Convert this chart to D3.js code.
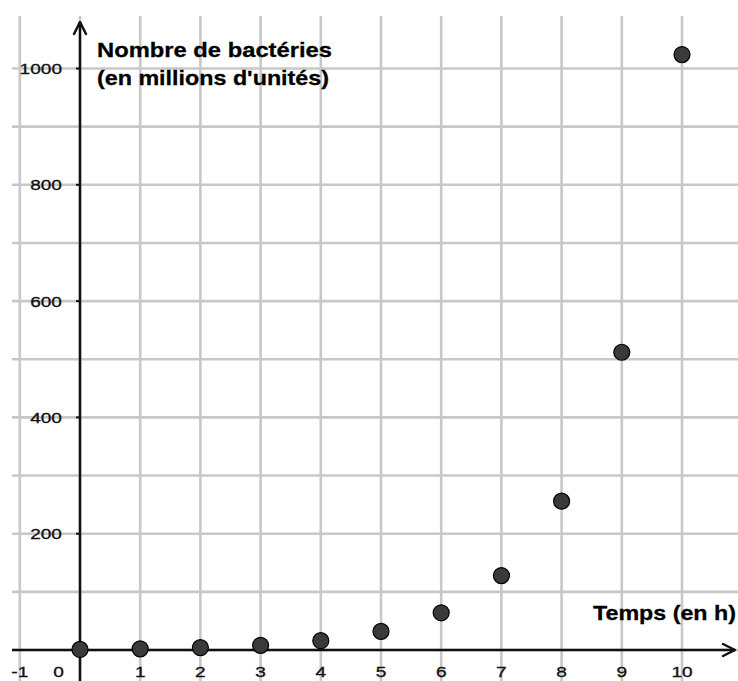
<!DOCTYPE html>
<html><head><meta charset="utf-8">
<script src="https://cdn.jsdelivr.net/npm/d3@7"></script>
<style>html,body{margin:0;padding:0;background:#fff;}svg{display:block;}</style>
</head><body>
<svg id="c" width="738" height="681"></svg>
<script>
const hours = [0,1,2,3,4,5,6,7,8,9,10];
const bacteria = [1,2,4,8,16,32,64,128,256,512,1024];
const xTickLabels = [-1,0,1,2,3,4,5,6,7,8,9,10];
const yTickLabels = [200,400,600,800,1000];
const xGrid = [-1,0,1,2,3,4,5,6,7,8,9,10,11];
const yGrid = [-100,0,100,200,300,400,500,600,700,800,900,1000];
const yTitle = ["Nombre de bactéries", "(en millions d'unités)"];
const xTitle = "Temps (en h)";

const svg = d3.select("#c");
const W = 738, H = 681;
const x = d3.scaleLinear().domain([0,10]).range([80,682]);
const y = d3.scaleLinear().domain([0,1000]).range([650,68.5]);
const gridTop = 16, gridLeft = 12;
const font = "'Liberation Sans', Arial, sans-serif";

// grid
const g = svg.append("g");
g.selectAll("line.v").data(xGrid).join("line")
  .attr("x1", d=>x(d)).attr("x2", d=>x(d)).attr("y1", gridTop).attr("y2", H)
  .attr("stroke", "#c8c8c8").attr("stroke-width", 2.6);
g.selectAll("line.h").data(yGrid).join("line")
  .attr("y1", d=>y(d)).attr("y2", d=>y(d)).attr("x1", gridLeft).attr("x2", W)
  .attr("stroke", "#c8c8c8").attr("stroke-width", 2.6);

// axes
const ax = svg.append("g").attr("stroke", "#111").attr("stroke-width", 2.5).attr("fill", "none")
  .attr("stroke-linecap", "round").attr("stroke-linejoin", "round");
ax.append("line").attr("x1", gridLeft).attr("x2", 735).attr("y1", y(0)).attr("y2", y(0)).attr("stroke-linecap","butt");
ax.append("path").attr("d", `M${735-12},${y(0)-6} L735,${y(0)} L${735-12},${y(0)+6}`);
ax.append("line").attr("x1", x(0)).attr("x2", x(0)).attr("y1", 22).attr("y2", H).attr("stroke-linecap","butt");
ax.append("path").attr("d", `M${x(0)-6},${22+12} L${x(0)},22 L${x(0)+6},${22+12}`);

// y ticks
svg.selectAll("line.yt").data(yTickLabels).join("line")
  .attr("x1", x(0)-4).attr("x2", x(0)).attr("y1", d=>y(d)).attr("y2", d=>y(d))
  .attr("stroke", "#111").attr("stroke-width", 2);

// y tick labels
svg.selectAll("text.yl").data(yTickLabels).join("text")
  .attr("x", 62).attr("y", d=>y(d)+5.5)
  .attr("text-anchor", "end")
  .attr("font-family", font).attr("font-size", 15.5).attr("fill", "#111")
  .attr("stroke", "#111").attr("stroke-width", 0.35)
  .attr("textLength", d=>String(d).length*10.6).attr("lengthAdjust", "spacingAndGlyphs")
  .text(d=>d);

// x tick labels
svg.selectAll("text.xl").data(xTickLabels).join("text")
  .attr("x", d => d===0 ? x(0)-21.5 : x(d))
  .attr("y", 677)
  .attr("text-anchor", "middle")
  .attr("font-family", font).attr("font-size", 15.5).attr("fill", "#111")
  .attr("stroke", "#111").attr("stroke-width", 0.35)
  .attr("textLength", d => d===-1 ? 17 : String(d).length*10.6).attr("lengthAdjust", "spacingAndGlyphs")
  .text(d=>d);

// titles
const tt = [[yTitle[0], 97, 57, 235], [yTitle[1], 97, 85, 232], [xTitle, 593, 620, 143]];
svg.selectAll("text.tt").data(tt).join("text")
  .attr("x", d=>d[1]).attr("y", d=>d[2])
  .attr("font-family", font).attr("font-weight", "bold").attr("font-size", 21).attr("fill", "#000")
  .attr("stroke", "#000").attr("stroke-width", 0.3)
  .attr("textLength", d=>d[3]).attr("lengthAdjust", "spacingAndGlyphs").text(d=>d[0]);

// points
svg.selectAll("circle").data(hours.map((h,i)=>({h, v: bacteria[i]}))).join("circle")
  .attr("cx", d=>x(d.h)).attr("cy", d=>y(d.v)).attr("r", 8)
  .attr("fill", "#3a3a3a").attr("stroke", "#000").attr("stroke-width", 1.2);
</script>
</body></html>
